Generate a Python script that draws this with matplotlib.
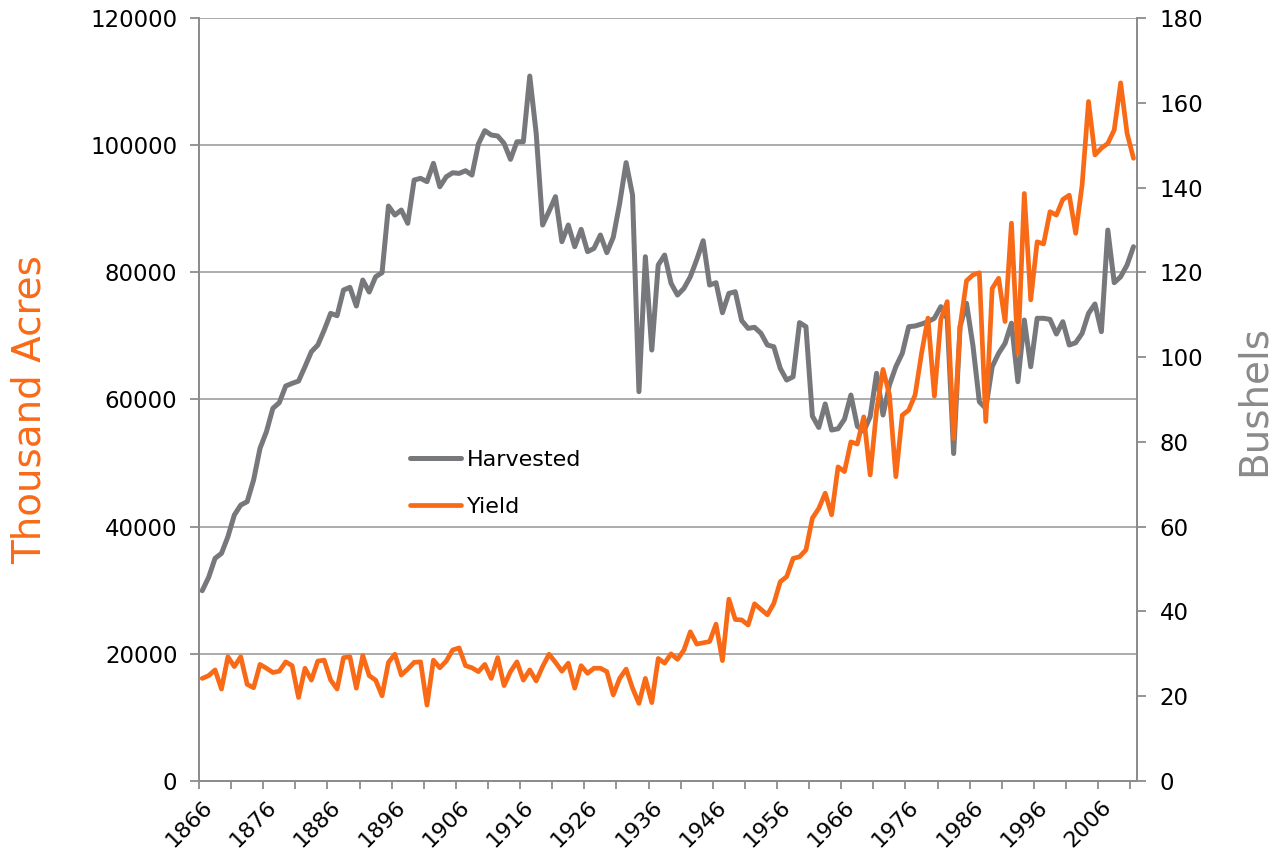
import matplotlib
matplotlib.use("Agg")
import matplotlib.pyplot as plt
import numpy as np

years = list(range(1866, 2012))

harvested = [
    29930, 32030, 35020, 35800, 38420, 41830, 43400, 43930, 47340, 52320,   # 1866-1875
    54940, 58610, 59500, 62120, 62540, 62900, 65160, 67520, 68570, 70930,   # 1876-1885
    73550, 73180, 77220, 77640, 74700, 78790, 76900, 79310, 79940, 90430,   # 1886-1895
    89010, 89800, 87710, 94520, 94780, 94260, 97140, 93460, 95030, 95660,   # 1896-1905
    95560, 95980, 95300, 100180, 102280, 101600, 101440, 100280, 97770, 100540,  # 1906-1915
    100540, 110870, 101860, 87440, 89600, 91900, 84820, 87440, 84030, 86760,     # 1916-1925
    83250, 83770, 85870, 83090, 85510, 90860, 97250, 92160, 61230, 82460,   # 1926-1935
    67780, 81150, 82720, 78270, 76430, 77480, 79310, 82000, 84970, 78000,   # 1936-1945
    78370, 73650, 76690, 76950, 72400, 71190, 71350, 70410, 68570, 68300,   # 1946-1955
    64900, 63060, 63580, 72090, 71450, 57400, 55600, 59300, 55200, 55400,   # 1956-1965
    56900, 60700, 55800, 55000, 57300, 64120, 57560, 62280, 65160, 67260,   # 1966-1975
    71450, 71560, 71870, 72240, 72770, 74600, 72700, 51500, 71500, 75130,   # 1976-1985
    68500, 59650, 58600, 65160, 67260, 68830, 72000, 62800, 72500, 65160,   # 1986-1995
    72770, 72770, 72600, 70300, 72240, 68570, 68930, 70400, 73550, 75020,   # 1996-2005
    70670, 86650, 78370, 79310, 81150, 84030,                               # 2006-2011
]

yield_bu = [
    24.2, 24.85, 26.2, 21.7, 29.3, 27.0, 29.3, 22.8, 22.0, 27.5,   # 1866-1875
    26.6, 25.6, 25.9, 28.1, 27.2, 19.7, 26.6, 23.8, 28.3, 28.5,    # 1876-1885
    23.8, 21.7, 29.1, 29.3, 21.9, 29.6, 24.85, 23.8, 20.1, 28.0,   # 1886-1895
    29.9, 25.0, 26.4, 28.0, 28.1, 17.9, 28.5, 26.7, 28.3, 30.9,    # 1896-1905
    31.4, 27.2, 26.7, 25.8, 27.5, 24.2, 29.1, 22.5, 25.8, 28.1,    # 1906-1915
    23.8, 26.2, 23.6, 27.0, 29.9, 28.0, 25.9, 27.8, 21.9, 27.2,    # 1916-1925
    25.4, 26.6, 26.6, 25.8, 20.3, 24.2, 26.4, 21.9, 18.3, 24.2,    # 1926-1935
    18.5, 28.9, 27.8, 30.0, 28.7, 30.9, 35.2, 32.3, 32.6, 32.9,    # 1936-1945
    37.0, 28.4, 42.9, 38.1, 38.0, 36.8, 41.8, 40.5, 39.2, 41.9,    # 1946-1955
    47.0, 48.2, 52.5, 52.9, 54.5, 62.0, 64.3, 67.9, 62.8, 74.1,    # 1956-1965
    73.0, 80.0, 79.5, 85.9, 72.2, 87.5, 97.1, 91.1, 71.8, 86.3,    # 1966-1975
    87.5, 91.1, 100.9, 109.2, 90.8, 108.9, 113.1, 80.8, 107.2, 118.0,   # 1976-1985
    119.4, 119.9, 84.8, 116.2, 118.6, 108.4, 131.6, 100.9, 138.6, 113.5,  # 1986-1995
    127.2, 126.7, 134.3, 133.5, 137.2, 138.2, 129.2, 140.6, 160.3, 147.7,  # 1996-2005
    149.3, 150.4, 153.6, 164.7, 152.8, 146.9,                              # 2006-2011
]

left_ticks = [0, 20000, 40000, 60000, 80000, 100000, 120000]
right_ticks = [0, 20, 40, 60, 80, 100, 120, 140, 160, 180]
label_years = list(range(1866, 2007, 10))

ORANGE = "#F96A17"
GRAY = "#77787B"
GRID = "#A6A6A6"
SPINE = "#8C8C8C"

plt.rcParams['font.family'] = ['DejaVu Sans']

fig = plt.figure(figsize=(12.85, 8.63), dpi=100)
ax = fig.add_axes([199 / 1285, 1 - 781 / 863, (1136.7 - 199) / 1285, (781 - 18) / 863])
ax2 = ax.twinx()

l1, = ax.plot(years, harvested, color=GRAY, lw=3.6, solid_joinstyle='round',
              solid_capstyle='round', label='Harvested')
l2, = ax2.plot(years, yield_bu, color=ORANGE, lw=3.4, solid_joinstyle='round',
               solid_capstyle='round', label='Yield')

ax.set_xlim(years[0] - 0.5, years[-1] + 0.5)
ax.set_ylim(0, 120000)
ax2.set_ylim(0, 180)

ax.set_yticks(left_ticks)
ax.set_yticklabels([str(v) for v in left_ticks])
ax2.set_yticks(right_ticks)
ax2.set_yticklabels([str(v) for v in right_ticks])

ax.yaxis.grid(True, color=GRID, lw=1.3)
ax.set_axisbelow(True)

boundaries = np.arange(years[0] - 0.5, years[-1] + 0.5, 5)
ax.set_xticks(boundaries, minor=True)
ax.set_xticks(label_years)
ax.set_xticklabels([str(y) for y in label_years], rotation=45, ha='right',
                   va='top', rotation_mode='anchor')
ax.tick_params(axis='x', which='major', length=0, pad=11, labelsize=16)
ax.tick_params(axis='x', which='minor', length=6, width=1.3, color=SPINE)
ax.tick_params(axis='y', length=6.5, width=1.3, color=SPINE, labelsize=16.5, pad=9)
ax2.tick_params(axis='y', length=6.5, width=1.3, color=SPINE, labelsize=16.5, pad=10)

for a in (ax, ax2):
    a.spines['top'].set_visible(False)
    for s in ('left', 'right', 'bottom'):
        a.spines[s].set_color(SPINE)
        a.spines[s].set_linewidth(1.3)

fig.text(30 / 1285, 1 - 410 / 863, 'Thousand Acres', color=ORANGE, fontsize=28,
         rotation=90, ha='center', va='center')
fig.text(1254 / 1285, 1 - 400 / 863, 'Bushels', color='#8A8A8A', fontsize=28,
         rotation=90, ha='center', va='center')

leg = ax2.legend([l1, l2], ['Harvested', 'Yield'], loc='upper left',
                 bbox_to_anchor=(410 / 1285, 1 - 450 / 863),
                 bbox_transform=fig.transFigure, frameon=False, fontsize=16,
                 handlelength=2.3, handletextpad=0.25, labelspacing=1.2,
                 borderpad=0, borderaxespad=0)

fig.savefig('out.png', dpi=100)
